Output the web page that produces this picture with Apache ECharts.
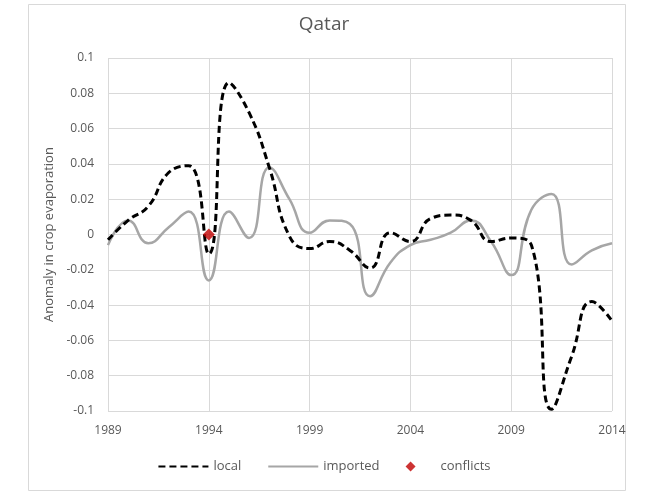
<!DOCTYPE html>
<html>
<head>
<meta charset="utf-8">
<script src="https://cdn.jsdelivr.net/npm/echarts@6/dist/echarts.min.js"></script>
<style>
  html, body { margin: 0; padding: 0; background: #fff; }
  #chart { width: 648px; height: 504px; }
</style>
</head>
<body>
<div id="chart"></div>
<script>
const years = []
for (let y = 1989; y <= 2014; y++) years.push(String(y))

// anomaly values
const local = [-0.003, 0.008, 0.016, 0.035, 0.039, -0.011, 0.086, 0.069, 0.038, -0.001,
  -0.008, -0.004, -0.009, -0.019, 0.001, -0.004, 0.009, 0.011, 0.008, -0.004,
  -0.002, -0.006, -0.099, -0.069, -0.038, -0.049]
const imported = [-0.006, 0.008, -0.005, 0.004, 0.013, -0.026, 0.013, -0.002, 0.038, 0.020,
  0.001, 0.008, 0.006, -0.035, -0.016, -0.006, -0.003, 0.001, 0.008, -0.004,
  -0.023, 0.014, 0.023, -0.017, -0.009, -0.005]
const conflicts = [['1994', 0]]

const chart = echarts.init(document.getElementById('chart'))

const textColor = '#595959'

chart.setOption({
  backgroundColor: '#fff',
  animation: false,
  title: {
    text: 'Qatar',
    left: 'center',
    top: 10,
    textStyle: {color: textColor, fontSize: 19, fontWeight: 'normal', fontFamily: 'Open Sans'}
  },
  graphic: [{
    type: 'rect',
    shape: {x: 28.5, y: 4.5, width: 597, height: 486},
    style: {fill: 'none', stroke: '#d9d9d9', lineWidth: 1},
    silent: true
  }],
  legend: {
    bottom: 26,
    left: 'center',
    itemWidth: 50,
    itemHeight: 10,
    itemGap: 26,
    textStyle: {color: textColor, fontSize: 13, fontFamily: 'Open Sans'},
    data: [
      {name: 'local', itemStyle: {opacity: 0}},
      {name: 'imported', itemStyle: {opacity: 0}},
      {name: 'conflicts', icon: 'path://M5,0 L10,5 L5,10 L0,5 Z'}
    ]
  },
  grid: {left: 108, right: 36, top: 58, bottom: 93},
  xAxis: {
    type: 'category',
    data: years,
    boundaryGap: false,
    axisLine: {show: false},
    axisTick: {show: false},
    axisLabel: {interval: 4, color: textColor, fontSize: 12, margin: 14, fontFamily: 'Open Sans'},
    splitLine: {show: true, interval: 4, lineStyle: {color: '#d9d9d9'}}
  },
  yAxis: {
    type: 'value',
    min: -0.1,
    max: 0.1,
    interval: 0.02,
    name: 'Anomaly in crop evaporation',
    nameLocation: 'middle',
    nameGap: 52,
    nameTextStyle: {color: textColor, fontSize: 13, fontFamily: 'Open Sans'},
    axisLabel: {
      color: textColor, fontSize: 12, margin: 14, fontFamily: 'Open Sans',
      formatter: v => String(+v.toFixed(2))
    },
    splitLine: {lineStyle: {color: '#d9d9d9'}}
  },
  series: [
    {
      name: 'local',
      type: 'line',
      data: local,
      smooth: 0.5,
      symbol: 'none',
      z: 3,
      itemStyle: {color: '#000'},
      lineStyle: {color: '#000', width: 3, type: [7, 4]}
    },
    {
      name: 'imported',
      type: 'line',
      data: imported,
      smooth: 0.5,
      symbol: 'none',
      z: 2,
      itemStyle: {color: '#a6a6a6'},
      lineStyle: {color: '#a6a6a6', width: 2.5}
    },
    {
      name: 'conflicts',
      type: 'scatter',
      data: conflicts,
      symbol: 'diamond',
      symbolSize: 12,
      z: 4,
      itemStyle: {color: '#c00000'}
    }
  ]
})
</script>
</body>
</html>
